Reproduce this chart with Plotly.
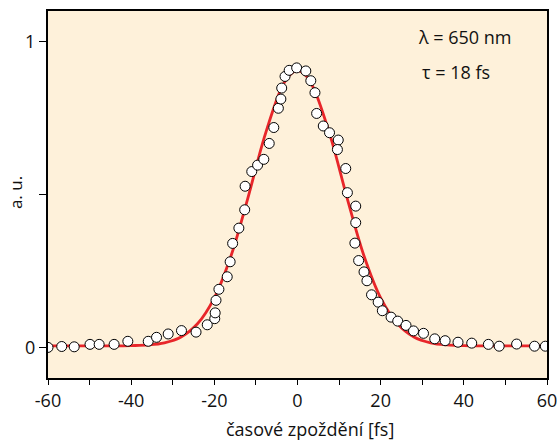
import plotly.graph_objects as go

# measured points (delay in fs, signal in a.u.)
delay = [-60.0, -56.7, -53.7, -49.9, -47.7, -44.1, -40.8, -35.9, -33.9, -31.1,
         -27.9, -24.4, -21.7, -19.9, -19.8, -19.6, -18.9, -16.9, -16.2, -15.6,
         -14.1, -12.7, -12.6, -11.0, -9.6, -8.1, -6.8, -5.7, -4.6, -4.0,
         -3.8, -3.0, -2.0, -0.2, 2.0, 3.2, 4.2, 4.6, 6.2, 7.7,
         9.8, 9.6, 11.6, 12.0, 14.0, 14.0, 13.8, 14.7, 16.0, 16.7,
         17.8, 19.4, 20.4, 22.5, 24.1, 26.1, 27.9, 30.3, 33.0, 35.5,
         38.6, 41.9, 45.9, 48.5, 52.7, 57.0, 59.6]
signal = [0.000, 0.003, 0.002, 0.010, 0.010, 0.010, 0.020, 0.020, 0.033, 0.044,
          0.055, 0.050, 0.074, 0.094, 0.113, 0.154, 0.190, 0.231, 0.280, 0.340,
          0.390, 0.450, 0.527, 0.575, 0.596, 0.615, 0.667, 0.719, 0.782, 0.812,
          0.848, 0.886, 0.906, 0.914, 0.904, 0.872, 0.833, 0.765, 0.724, 0.702,
          0.678, 0.647, 0.585, 0.506, 0.462, 0.408, 0.341, 0.284, 0.247, 0.218,
          0.172, 0.148, 0.120, 0.099, 0.086, 0.072, 0.054, 0.046, 0.028, 0.022,
          0.017, 0.014, 0.010, 0.004, 0.011, 0.004, 0.004]

# fitted curve
fit_x = [-60, -50, -44, -40, -36, -32, -28, -24, -20, -16, -12, -8, -4, -2, 0,
         2, 4, 8, 12, 16, 20, 24, 28, 32, 36, 40, 44, 50, 60]
fit_y = [0.005, 0.005, 0.005, 0.006, 0.008, 0.015, 0.034, 0.078, 0.162, 0.299,
         0.485, 0.686, 0.844, 0.889, 0.905, 0.889, 0.844, 0.686, 0.485, 0.299,
         0.162, 0.078, 0.034, 0.015, 0.008, 0.006, 0.005, 0.005, 0.005]

x_ticks = [-60, -50, -40, -30, -20, -10, 0, 10, 20, 30, 40, 50, 60]
x_labels = ["-60", "", "-40", "", "-20", "", "0", "", "20", "", "40", "", "60"]
y_ticks = [0, 0.5, 1]
y_labels = ["0", "", "1"]

font = "Open Sans, Noto Sans, sans-serif"

fig = go.Figure()
fig.add_trace(go.Scatter(
    x=fit_x, y=fit_y, mode="lines", line=dict(color="#e8262a", width=2.8, shape="spline"),
    hoverinfo="skip"))
fig.add_trace(go.Scatter(
    x=delay, y=signal, mode="markers",
    marker=dict(symbol="circle", size=10, color="white", line=dict(color="black", width=1))))

fig.update_layout(
    width=560, height=441,
    margin=dict(l=48, r=13, t=11, b=63),
    paper_bgcolor="white", plot_bgcolor="#fef1da",
    showlegend=False,
    font=dict(family=font, size=18, color="#111111"),
    xaxis=dict(range=[-60, 60], tickvals=x_ticks, ticktext=x_labels,
               ticks="outside", ticklen=5, tickwidth=1, tickcolor="black",
               showline=True, linecolor="black", linewidth=2, mirror=True,
               showgrid=False, zeroline=False, automargin=False),
    yaxis=dict(range=[-0.1, 1.1], tickvals=y_ticks, ticktext=y_labels,
               ticks="outside", ticklen=7, tickwidth=1, tickcolor="black",
               showline=True, linecolor="black", linewidth=2, mirror=True,
               showgrid=False, zeroline=False, automargin=False),
)

# axis titles
fig.add_annotation(x=0.526, y=-0.14, xref="paper", yref="paper", xanchor="center", yanchor="middle",
                   text="časové zpoždění [fs]", showarrow=False, font=dict(size=18))
fig.add_annotation(x=-0.066, y=0.504, xref="paper", yref="paper", xanchor="center", yanchor="middle",
                   text="a. u.", textangle=-90, showarrow=False, font=dict(size=17))

# parameters
fig.add_annotation(x=0.738, y=0.93, xref="paper", yref="paper", xanchor="left", yanchor="middle",
                   text="λ = 650 nm", showarrow=False, font=dict(size=18))
fig.add_annotation(x=0.746, y=0.835, xref="paper", yref="paper", xanchor="left", yanchor="middle",
                   text="τ = 18 fs", showarrow=False, font=dict(size=18))

# page margin off so the figure sits at the window's corner
fig.write_html("out.html", config={"displayModeBar": False},
               post_script="document.body.style.margin = '0px';")
